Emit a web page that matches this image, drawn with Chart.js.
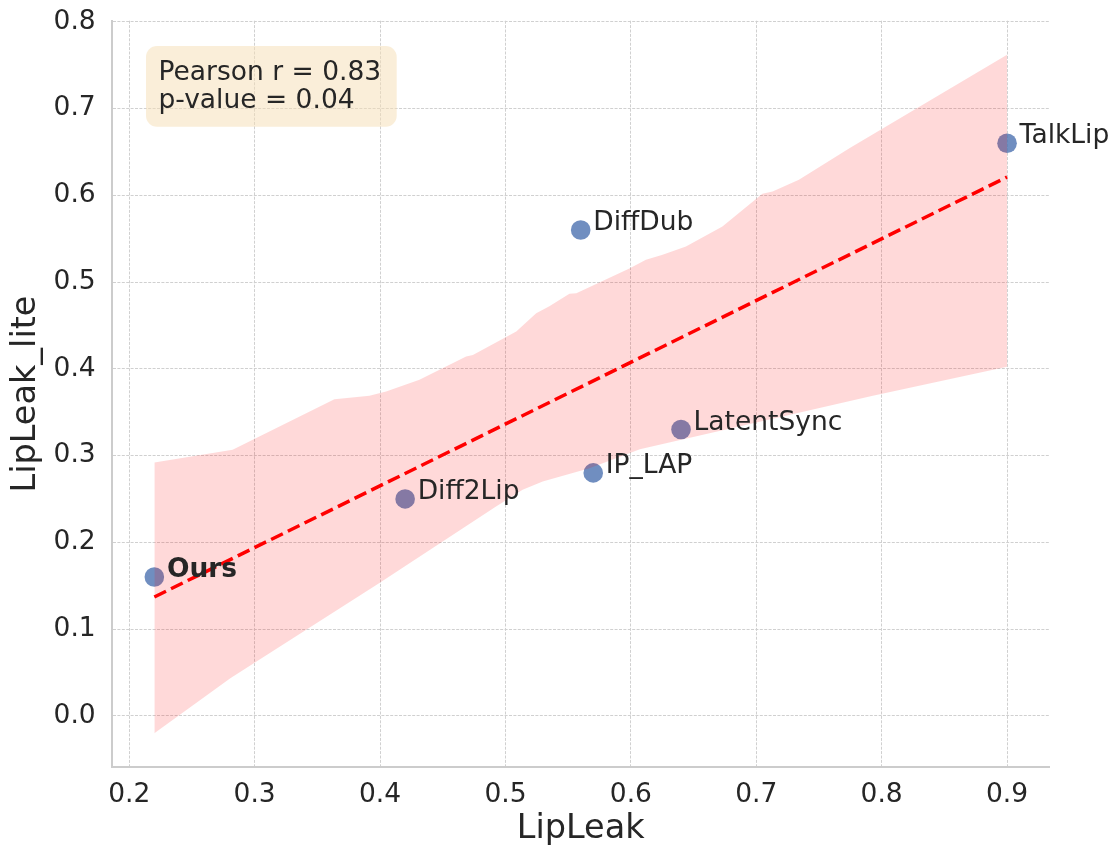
<!DOCTYPE html>
<html>
<head>
<meta charset="utf-8">
<script src="https://cdn.jsdelivr.net/npm/chart.js@4.4.1/dist/chart.umd.min.js"></script>
<style>
  html, body { margin: 0; padding: 0; background: #ffffff; }
  canvas { display: block; }
</style>
</head>
<body>
<canvas id="corrChart" width="1113" height="848"></canvas>
<script>
// method scores
var methods = ['Ours', 'Diff2Lip', 'IP_LAP', 'DiffDub', 'LatentSync', 'TalkLip'];
var lipLeak = [0.22, 0.42, 0.57, 0.56, 0.64, 0.90];
var lipLeakLite = [0.16, 0.25, 0.28, 0.56, 0.33, 0.66];
var highlighted = 'Ours';

// regression fit (end points)
var fitX = [0.22, 0.90];
var fitY = [0.137, 0.621];

// confidence band edges
var bandUpperX = [0.22, 0.2824, 0.3636, 0.3915, 0.4048, 0.4314, 0.4686, 0.474, 0.5086, 0.5245, 0.535,
                  0.551, 0.5565, 0.5988, 0.612, 0.6253, 0.6439, 0.673, 0.7049, 0.713, 0.734, 0.7746, 0.90];
var bandUpperY = [0.292, 0.3066, 0.365, 0.369, 0.3738, 0.3873, 0.4142, 0.416, 0.443, 0.464, 0.472,
                  0.4866, 0.487, 0.5157, 0.5256, 0.5314, 0.541, 0.564, 0.6017, 0.6044, 0.618, 0.6544, 0.762];
var bandLowerX = [0.22, 0.2806, 0.3995, 0.4925, 0.5137, 0.5297, 0.567, 0.6072, 0.793, 0.90];
var bandLowerY = [-0.02, 0.0433, 0.153, 0.2413, 0.2605, 0.270, 0.2855, 0.3074, 0.369, 0.4025];

var xTicks = [0.2, 0.3, 0.4, 0.5, 0.6, 0.7, 0.8, 0.9];
var yTicks = [0.0, 0.1, 0.2, 0.3, 0.4, 0.5, 0.6, 0.7, 0.8];

var statsLines = ['Pearson r = 0.83', 'p-value = 0.04'];

function toPoints(xs, ys) {
    return xs.map(function (x, i) { return { x: x, y: ys[i] }; });
}

var textColor = '#262626';
var fontFamily = "'DejaVu Sans', sans-serif";
Chart.defaults.font.family = fontFamily;
Chart.defaults.color = textColor;

// method names beside each point, plus the correlation box
var labelPlugin = {
    id: 'pointLabels',
    afterDatasetsDraw: function (chart) {
        var ctx = chart.ctx;
        var xs = chart.scales.x, ys = chart.scales.y;
        ctx.save();
        ctx.fillStyle = textColor;
        ctx.textBaseline = 'alphabetic';
        ctx.textAlign = 'left';
        methods.forEach(function (name, i) {
            var px = xs.getPixelForValue(lipLeak[i] + 0.01);
            var py = ys.getPixelForValue(lipLeakLite[i]);
            ctx.font = (name === highlighted ? 'bold ' : '') + '26.5px ' + fontFamily;
            ctx.fillText(name, px, py);
        });

        var area = chart.chartArea;
        var bx = area.left + 34.3, by = area.top + 25.3;
        ctx.fillStyle = 'rgba(245, 222, 179, 0.5)';
        ctx.beginPath();
        ctx.roundRect(bx, by, 250.7, 80.7, 11);
        ctx.fill();
        ctx.fillStyle = textColor;
        ctx.font = '26.5px ' + fontFamily;
        ctx.fillText(statsLines[0], bx + 12.5, by + 34);
        ctx.fillText(statsLines[1], bx + 12.5, by + 62.4);
        ctx.restore();
    }
};

var gridOpts = { color: '#d0d0d0', lineWidth: 1, drawTicks: false };
var borderOpts = { display: true, color: '#cccccc', width: 2, dash: [3, 1.4] };

var chart = new Chart(document.getElementById('corrChart').getContext('2d'), {
    type: 'scatter',
    data: {
        datasets: [
            {
                label: 'methods',
                data: toPoints(lipLeak, lipLeakLite),
                backgroundColor: 'rgba(76, 114, 176, 0.8)',
                borderWidth: 0,
                pointRadius: 9.8,
                order: 3
            },
            {
                type: 'line',
                label: 'band lower',
                data: toPoints(bandLowerX, bandLowerY),
                borderColor: 'rgba(0,0,0,0)',
                borderWidth: 0,
                pointRadius: 0,
                fill: false,
                tension: 0,
                order: 2
            },
            {
                type: 'line',
                label: 'band upper',
                data: toPoints(bandUpperX, bandUpperY),
                borderColor: 'rgba(0,0,0,0)',
                borderWidth: 0,
                backgroundColor: 'rgba(255, 0, 0, 0.15)',
                pointRadius: 0,
                fill: '-1',
                tension: 0,
                order: 2
            },
            {
                type: 'line',
                label: 'fit',
                data: toPoints(fitX, fitY),
                borderColor: '#ff0000',
                borderWidth: 3.5,
                borderDash: [13, 5.6],
                pointRadius: 0,
                fill: false,
                order: 1
            }
        ]
    },
    options: {
        responsive: false,
        animation: false,
        layout: { padding: { top: 20.7, right: 63.3, left: 0, bottom: 0 } },
        plugins: {
            legend: { display: false },
            tooltip: { enabled: false }
        },
        scales: {
            x: {
                type: 'linear',
                min: 0.186,
                max: 0.934,
                afterBuildTicks: function (scale) {
                    scale.ticks = xTicks.map(function (v) { return { value: v }; });
                },
                afterFit: function (scale) {
                    scale.height = 80.7;
                    scale.paddingLeft = 0;
                    scale.paddingRight = 0;
                },
                ticks: {
                    padding: 11.8,
                    color: textColor,
                    font: { size: 26.5 },
                    callback: function (value) { return value.toFixed(1); }
                },
                grid: gridOpts,
                border: borderOpts,
                title: {
                    display: true,
                    text: 'LipLeak',
                    color: textColor,
                    font: { size: 33.5, lineHeight: 1 },
                    padding: { top: 0, bottom: 2 }
                }
            },
            y: {
                type: 'linear',
                min: -0.0593,
                max: 0.8012,
                afterBuildTicks: function (scale) {
                    scale.ticks = yTicks.map(function (v) { return { value: v }; });
                },
                afterFit: function (scale) {
                    scale.width = 111.7;
                    scale.paddingTop = 0;
                    scale.paddingBottom = 0;
                },
                ticks: {
                    padding: 16,
                    color: textColor,
                    font: { size: 26.5 },
                    callback: function (value) { return value.toFixed(1); }
                },
                grid: gridOpts,
                border: borderOpts,
                title: {
                    display: true,
                    text: 'LipLeak_lite',
                    color: textColor,
                    font: { size: 33.5, lineHeight: 1 },
                    padding: { top: 10, bottom: 0 }
                }
            }
        }
    },
    plugins: [labelPlugin]
});
</script>
</body>
</html>
